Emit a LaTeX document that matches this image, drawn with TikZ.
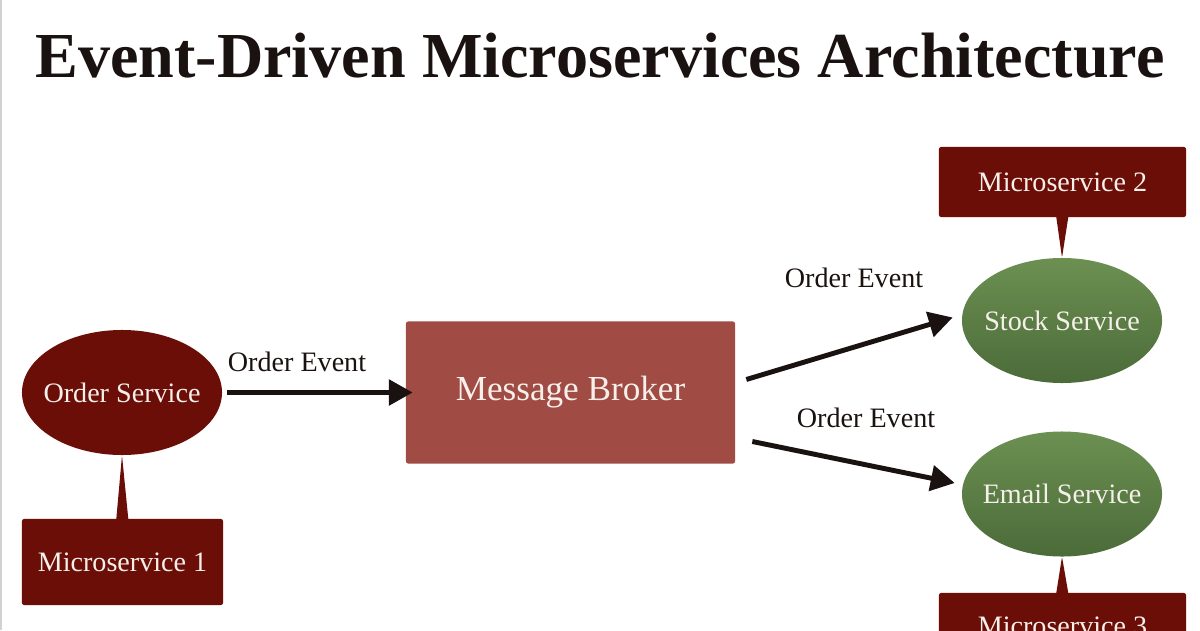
\documentclass[tikz,border=0pt]{standalone}
\usepackage{fontspec}
\setmainfont{Liberation Serif}
\usetikzlibrary{arrows.meta,shapes.geometric,shapes.callouts}
\definecolor{msred}{HTML}{6B0E07}
\definecolor{brokerred}{HTML}{A04B44}
\definecolor{svcgreen}{HTML}{6C9052}
\definecolor{svcgreendark}{HTML}{4B6B39}
\definecolor{inkblack}{HTML}{1A1210}
\definecolor{txtwhite}{HTML}{F6EFEA}
\begin{document}
\begin{tikzpicture}[x=0.025cm,y=-0.025cm,
  svc/.style={ellipse,inner xsep=-6.5pt,inner ysep=0pt,minimum width=5cm,minimum height=3.125cm,text=txtwhite,font=\fontsize{20}{24}\selectfont},
  greensvc/.style={svc,top color=svcgreen,bottom color=svcgreendark},
  msbox/.style={rectangle callout,fill=msred,text=txtwhite,rounded corners=1.5pt,callout pointer width=0.3cm,font=\fontsize{20}{24}\selectfont},
  flow/.style={line width=3.5pt,draw=inkblack,-{Triangle[length=17pt,width=18pt]}},
  evt/.style={font=\fontsize{20}{24}\selectfont,text=inkblack}]
\useasboundingbox(0,0)rectangle(1200,630);\clip(0,0)rectangle(1200,630);
\fill[white](0,0)rectangle(1200,630);\draw[gray!35,line width=1pt](1,0)--(1,630);
\node[font=\fontsize{45.6}{54}\selectfont\bfseries,text=inkblack,anchor=base](title)at(600,78){Event-Driven Microservices Architecture};
% services and their microservice tags
\node[svc,fill=msred](os)at(122,392.5){Order Service};
\node[msbox,minimum width=5.025cm,minimum height=2.15cm,callout absolute pointer={(os.south)}](ms1)at(122.5,562){Microservice 1};
\node[fill=brokerred,rounded corners=1.5pt,minimum width=8.225cm,minimum height=3.55cm,text=txtwhite,font=\fontsize{25}{30}\selectfont](mb)at(570.5,392.5){Message Broker};
\node[greensvc](ss)at(1062,320.5){Stock Service};
\node[msbox,minimum width=6.175cm,minimum height=1.75cm,callout absolute pointer={(ss.north)}](ms2)at(1062.5,182){Microservice 2};
\node[greensvc](es)at(1062,494){Email Service};
\node[msbox,minimum width=6.175cm,minimum height=1.65cm,callout absolute pointer={(es.south)}](ms3)at(1062.5,626){Microservice 3};
% events
\node[evt](ev1)at(297,362){Order Event};\node[evt](ev2)at(854,278){Order Event};\node[evt](ev3)at(866,418){Order Event};
\draw[flow]([shift={(5,0)}]os.east)--([shift={(7,0)}]mb.west);
\draw[flow]([shift={(11,-13)}]mb.east)--([shift={(-9,-3)}]ss.west);
\draw[flow]([shift={(17,49)}]mb.east)--([shift={(-7,-11)}]es.west);
\end{tikzpicture}
\end{document}
